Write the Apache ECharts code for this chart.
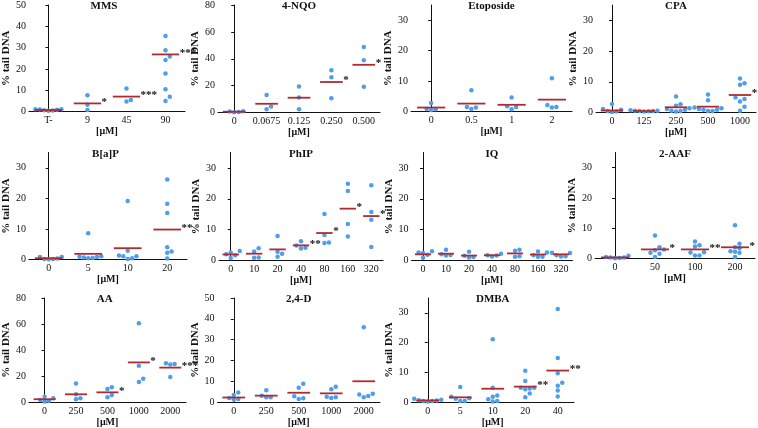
<!DOCTYPE html>
<html><head><meta charset="utf-8">
<script src="https://cdn.jsdelivr.net/npm/echarts@6/dist/echarts.min.js"></script>
<style>html,body{margin:0;padding:0;background:#fff}#c{width:758px;height:428px}</style>
</head><body><div id="c"></div>
<script>
// ---------- data ----------
const mmsCats = ['T-','9','45','90'];
const mmsPoints = [[0.3,0.6,1.0,1.1,0.8,0.5,0.9],[7.6,3.2,0.7],[10.8,5.4,4.7],[35.5,28.7,25.8,24.2,17.8,10.4,6.9,4.9]];
const mmsMeans = [0.7,3.8,7.0,26.8];
const mmsStars = ['','*','***','***'];

const nqoCats = ['0','0.0675','0.125','0.250','0.500'];
const nqoPoints = [[0.8,0.3,1.0,0.2],[13.1,4.5,2.5],[19.3,11.1,2.5],[31.4,26.2,10.6],[48.8,38.9,19.1]];
const nqoMeans = [0.6,6.5,11.0,22.7,35.5];
const nqoStars = ['','','','*','*'];

const etoCats = ['0','0.5','1','2'];
const etoPoints = [[2.8,0.8,0.7,0.5],[7.0,1.5,0.8,1.3],[4.6,1.7,0.7,1.5],[10.9,2.1,1.3,1.5]];
const etoMeans = [1.3,2.6,2.2,3.9];
const etoStars = ['','','',''];

const cpaCats = ['0','125','250','500','1000'];
const cpaPoints = [[2.8,1.1,0.9,0.3,0.5,0.2],[0.5,0.6,0.4,0.7,0.5,0.3,0.6],[5.2,2.7,2.2,1.4,0.9,0.6,0.3,0.5,1.1],[5.9,4.0,1.6,1.1,0.9,0.5,0.5,0.9,1.4],[11.1,9.5,9.0,4.9,4.4,3.6,1.9,0.6]];
const cpaMeans = [0.65,0.5,1.7,1.9,5.7];
const cpaStars = ['','','','','**'];

const bapCats = ['0','5','10','20'];
const bapPoints = [[0.8,0.2,0.1,0.3,0.2,0.8],[8.6,0.8,0.5,0.4,0.65,0.9,1.1],[19.1,2.9,1.3,1.1,0.4,0.2,1.1],[26.2,18.2,15.2,4.0,2.6,2.2,0.3]];
const bapMeans = [0.4,1.85,3.7,9.8];
const bapStars = ['','','','**'];

const phipCats = ['0','10','20','40','80','160','320'];
const phipPoints = [[3.1,2.6,1.7,0.8,2.0],[4.0,2.9,0.9,1.0],[7.9,2.8,1.2,2.2],[6.2,4.9,3.9,4.1],[15.1,8.3,5.7,5.8],[24.9,22.5,11.8,7.8],[24.4,15.7,13.2,4.4]];
const phipMeans = [1.95,2.2,3.6,4.9,8.9,16.8,14.4];
const phipStars = ['','','','**','*','*','*'];

const iqCats = ['0','10','20','40','80','160','320'];
const iqPoints = [[3.0,2.4,0.9,2.6,1.9],[3.5,2.0,1.6,1.8],[2.8,1.1,1.0,1.5],[2.2,1.6,1.3,1.7],[3.5,3.2,1.4,1.2],[2.9,2.6,1.2,1.7,1.2],[2.5,1.4,1.3,1.7,2.4]];
const iqMeans = [2.0,2.2,1.6,1.7,2.3,1.95,2.0];
const iqStars = ['','','','','','',''];

const aafCats = ['0','50','100','200'];
const aafPoints = [[0.9,0.3,0.1,0.2,0.3,0.5],[7.6,3.7,2.7,1.6,1.9,0.5,3.0],[5.6,4.4,4.0,2.0,2.1,1.0,1.0],[11.0,4.9,3.7,3.4,2.2,1.9,0.5,2.4]];
const aafMeans = [0.35,3.0,3.0,3.7];
const aafStars = ['','*','**','*'];

const aaCats = ['0','250','500','1000','2000'];
const aaPoints = [[4.2,3.0,1.7,1.0,0.5],[14.2,6.0,3.0,2.2],[11.5,10.0,5.5,3.7],[60.5,28.0,18.0,15.5],[29.2,28.8,29.8,19.3]];
const aaMeans = [2.2,6.0,7.5,30.5,26.5];
const aaStars = ['','','*','*','***'];

const dCats = ['0','250','500','1000','2000'];
const dPoints = [[4.6,3.4,2.0,1.5,1.2],[5.7,3.1,2.3,2.3],[8.8,6.9,2.8,1.5,1.8],[7.4,6.2,2.6,2.0,2.3],[36.0,4.0,2.3,2.9,3.7]];
const dMeans = [2.2,3.1,4.5,4.2,10.0];
const dStars = ['','','','',''];

const dmbaCats = ['0','5','10','20','40'];
const dmbaPoints = [[1.1,0.6,0.4,0.5,0.8,0.4,0.2],[5.1,1.8,1.1,0.4,0.4,1.3],[21.1,4.8,2.2,1.8,1.0,0.2,0.4],[10.5,7.1,4.8,4.6,4.3,2.9,1.6,4.8],[31.3,14.8,9.7,6.5,5.5,3.9,1.9]];
const dmbaMeans = [0.55,1.6,4.5,5.2,10.6];
const dmbaStars = ['','','','**','**'];

const ticks50 = [0,10,20,30,40,50];
const ticks80 = [0,20,40,60,80];
const ticks30 = [0,10,20,30];

// ---------- layout ----------
const panels = [
  {title:'MMS', cats:mmsCats, pts:mmsPoints, means:mmsMeans, stars:mmsStars, ticks:ticks50, max:50, l:23, t:5, w:162, h:106.5},
  {title:'4-NQO', cats:nqoCats, pts:nqoPoints, means:nqoMeans, stars:nqoStars, ticks:ticks80, max:80, l:218, t:5, w:162, h:107.5},
  {title:'Etoposide', cats:etoCats, pts:etoPoints, means:etoMeans, stars:etoStars, ticks:ticks30, max:35, l:411, t:5, w:161, h:106.5},
  {title:'CPA', cats:cpaCats, pts:cpaPoints, means:cpaMeans, stars:cpaStars, ticks:ticks30, max:35, l:596, t:5, w:160, h:107.5},
  {title:'B[a]P', cats:bapCats, pts:bapPoints, means:bapMeans, stars:bapStars, ticks:ticks30, max:35, l:24, t:152.5, w:163, h:107},
  {title:'PhIP', cats:phipCats, pts:phipPoints, means:phipMeans, stars:phipStars, ticks:ticks30, max:35, l:219, t:152.5, w:164, h:108},
  {title:'IQ', cats:iqCats, pts:iqPoints, means:iqMeans, stars:iqStars, ticks:ticks30, max:35, l:411.5, t:152.5, w:161, h:108},
  {title:'2-AAF', cats:aafCats, pts:aafPoints, means:aafMeans, stars:aafStars, ticks:ticks30, max:35, l:595, t:152.5, w:160, h:106},
  {title:'AA', cats:aaCats, pts:aaPoints, means:aaMeans, stars:aaStars, ticks:ticks80, max:80, l:23.5, t:298, w:162.5, h:108.5},
  {title:'2,4-D', cats:dCats, pts:dPoints, means:dMeans, stars:dStars, ticks:ticks50, max:50, l:217.5, t:298, w:162.5, h:109},
  {title:'DMBA', cats:dmbaCats, pts:dmbaPoints, means:dmbaMeans, stars:dmbaStars, ticks:ticks30, max:35, l:411.5, t:298, w:162.5, h:108.5}
];

const FONT = 'Liberation Serif';
const PT = '#4f9deb', LINE = '#b02a2e', INK = '#111';

function swarm(groups, pxPerUnit, bandPx){
  const out = [];
  const STEP = 4.5, MIN = 4.5;
  groups.forEach((vals, gi) => {
    const placed = [];
    const order = vals.map((v,k)=>k).sort((a,b)=>vals[a]-vals[b]);
    order.forEach(k => {
      const y = vals[k]*pxPerUnit;
      for (let s=0; s<60; s++){
        const off = (s%2 ? 1 : -1) * Math.ceil(s/2) * STEP;
        if (placed.every(p => Math.hypot(p[0]-off, p[1]-y) >= MIN)){
          placed.push([off, y]);
          out.push([gi + off/bandPx, vals[k]]);
          break;
        }
      }
    });
  });
  return out;
}

const grid=[], xAxis=[], yAxis=[], series=[], graphic=[];
panels.forEach((p, i) => {
  const n = p.cats.length;
  grid.push({left:p.l, top:p.t, width:p.w, height:p.h});
  xAxis.push({
    gridIndex:i, type:'category', data:p.cats, boundaryGap:true,
    axisLine:{lineStyle:{color:INK, width:1}},
    axisTick:{alignWithLabel:true, length:3, lineStyle:{color:INK}},
    axisLabel:{fontFamily:FONT, fontSize:10, color:INK, margin:4, interval:0},
    name:'[μM]', nameLocation:'middle', nameGap:14,
    nameTextStyle:{fontFamily:FONT, fontSize:10, fontWeight:'bold', color:INK}
  });
  xAxis.push({gridIndex:i, type:'value', min:-0.5, max:n-0.5, show:false});
  yAxis.push({
    gridIndex:i, type:'value', min:0, max:p.max,
    axisLine:{show:true, lineStyle:{color:INK, width:1}},
    axisTick:{show:true, length:3, lineStyle:{color:INK}, customValues:p.ticks},
    axisLabel:{fontFamily:FONT, fontSize:10, color:INK, margin:3, customValues:p.ticks},
    splitLine:{show:false},
    name:'% tail DNA', nameLocation:'middle', nameRotate:90, nameGap:13,
    nameTextStyle:{fontFamily:FONT, fontSize:11, fontWeight:'bold', color:INK}
  });
  const data = swarm(p.pts, p.h/p.max, p.w/n);
  series.push({
    type:'scatter', xAxisIndex:2*i+1, yAxisIndex:i, data:data,
    symbolSize:4.5, itemStyle:{color:PT, opacity:1}, silent:true, z:2
  });
  const stars = p.stars;
  series.push({
    type:'custom', xAxisIndex:2*i+1, yAxisIndex:i, z:3, silent:true,
    data: p.means.map((m,j)=>[j,m]),
    renderItem: function(params, api){
      const j = api.value(0), m = api.value(1);
      const a = api.coord([j-0.35, m]), b = api.coord([j+0.35, m]);
      const ch = [{type:'line', shape:{x1:a[0], y1:a[1], x2:b[0], y2:b[1]}, style:{stroke:LINE, lineWidth:1.8}}];
      const s = stars[params.dataIndex];
      if (s) ch.push({type:'text', style:{text:s, x:b[0]+0.5, y:a[1]-1.5, fill:INK, font:'bold 11px "'+FONT+'"', textAlign:'left', textVerticalAlign:'middle'}});
      return {type:'group', children:ch};
    }
  });
  graphic.push({type:'text', x:p.l + p.w/2, y:p.t - 4, silent:true,
    style:{text:p.title, fill:INK, font:'bold 11px "'+FONT+'"', textAlign:'center', textVerticalAlign:'top'}});
});

const chart = echarts.init(document.getElementById('c'), null, {renderer:'canvas'});
chart.setOption({animation:false, backgroundColor:'#fff', grid, xAxis, yAxis, series, graphic});
</script></body></html>
